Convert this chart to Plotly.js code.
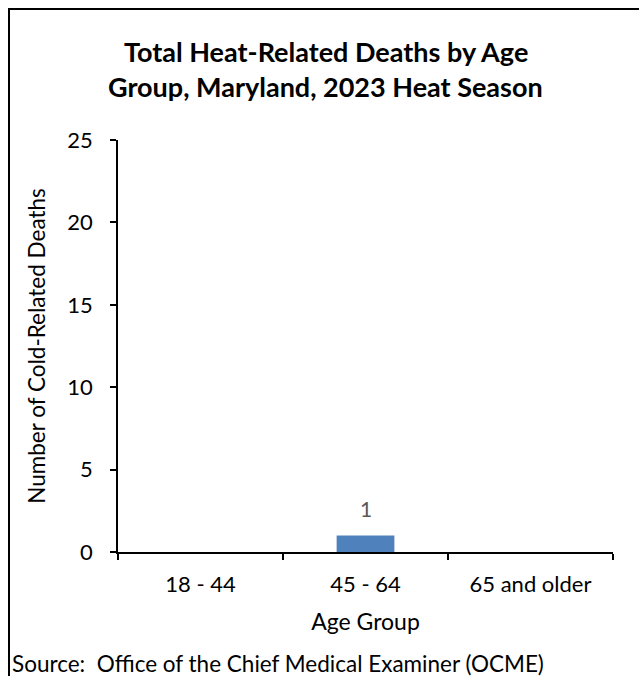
<!DOCTYPE html>
<html>
<head>
<meta charset="utf-8">
<script src="https://cdn.plot.ly/plotly-3.0.1.min.js"></script>
<style>
html,body{margin:0;padding:0;background:#fff;}
#wrap{position:relative;width:639px;height:676px;overflow:hidden;}
#frame{position:absolute;left:8px;top:8px;width:700px;height:700px;border-top:2px solid #000;border-left:2px solid #000;pointer-events:none;z-index:5;}
#chart{position:absolute;left:0;top:0;width:639px;height:676px;}
</style>
</head>
<body>
<div id="wrap">
<div id="chart"></div>
<div id="frame"></div>
</div>
<script>
const categories = ["18 - 44", "45 - 64", "65 and older"];
const deaths = [0, 1, 0];
const titleLines = ["Total Heat-Related Deaths by Age", "Group, Maryland, 2023 Heat Season"];
const yTicks = [0, 5, 10, 15, 20, 25];
const sourceNote = "Source:&nbsp;&nbsp;Office of the Chief Medical Examiner (OCME)";

const FONT = "Lato, 'Open Sans', sans-serif";

const trace = {
  type: "bar",
  x: categories,
  y: deaths,
  marker: {color: "#4F81BD"},
  width: 0.35,
  hoverinfo: "x+y"
};

// data labels for non-zero bars, positioned via data coordinates
const labelAnnots = categories.map((c, i) => ({c, v: deaths[i]}))
  .filter(d => d.v !== 0)
  .map(d => ({
    x: d.c, y: d.v, xref: "x", yref: "y", text: String(d.v),
    showarrow: false, yanchor: "bottom", yshift: 13,
    font: {family: FONT, size: 21, color: "#595959"}
  }));

const layout = {
  width: 639, height: 676,
  margin: {l: 118, r: 26, t: 140, b: 124, pad: 0},
  paper_bgcolor: "#ffffff",
  plot_bgcolor: "#ffffff",
  font: {family: FONT, size: 21, color: "#000"},
  showlegend: false,
  xaxis: {
    type: "category",
    tickson: "boundaries",
    ticks: "outside", ticklen: 6, tickwidth: 1.5, tickcolor: "#000",
    showline: true, linecolor: "#000", linewidth: 1.5,
    showgrid: false, zeroline: false,
    tickfont: {family: FONT, size: 22, color: "#000"},
    ticklabelstandoff: 12,
    title: {text: "Age Group", font: {family: FONT, size: 23, color: "#000"}, standoff: 18},
    automargin: false
  },
  yaxis: {
    range: [0, 25],
    tickvals: yTicks,
    ticks: "outside", ticklen: 6, tickwidth: 1.5, tickcolor: "#000",
    showline: true, linecolor: "#000", linewidth: 1.5,
    showgrid: false, zeroline: false,
    tickfont: {family: FONT, size: 22, color: "#000"},
    ticklabelstandoff: 13,
    title: {text: "Number of Cold-Related Deaths", font: {family: FONT, size: 22.5, color: "#000"}, standoff: 15},
    automargin: false
  },
  annotations: [
    {text: "<b>" + titleLines[0] + "</b>", xref: "paper", yref: "paper", x: 0.42, y: 1, yshift: 89,
     xanchor: "center", yanchor: "middle", showarrow: false, font: {family: FONT, size: 27, color: "#000"}},
    {text: "<b>" + titleLines[1] + "</b>", xref: "paper", yref: "paper", x: 0.42, y: 1, yshift: 54,
     xanchor: "center", yanchor: "middle", showarrow: false, font: {family: FONT, size: 27, color: "#000"}},
    {text: sourceNote, xref: "paper", yref: "paper", x: -0.218, y: 0, yshift: -111,
     xanchor: "left", yanchor: "middle", showarrow: false, font: {family: FONT, size: 22.5, color: "#000"}}
  ].concat(labelAnnots)
};

Plotly.newPlot("chart", [trace], layout, {displayModeBar: false});
</script>
</body>
</html>
